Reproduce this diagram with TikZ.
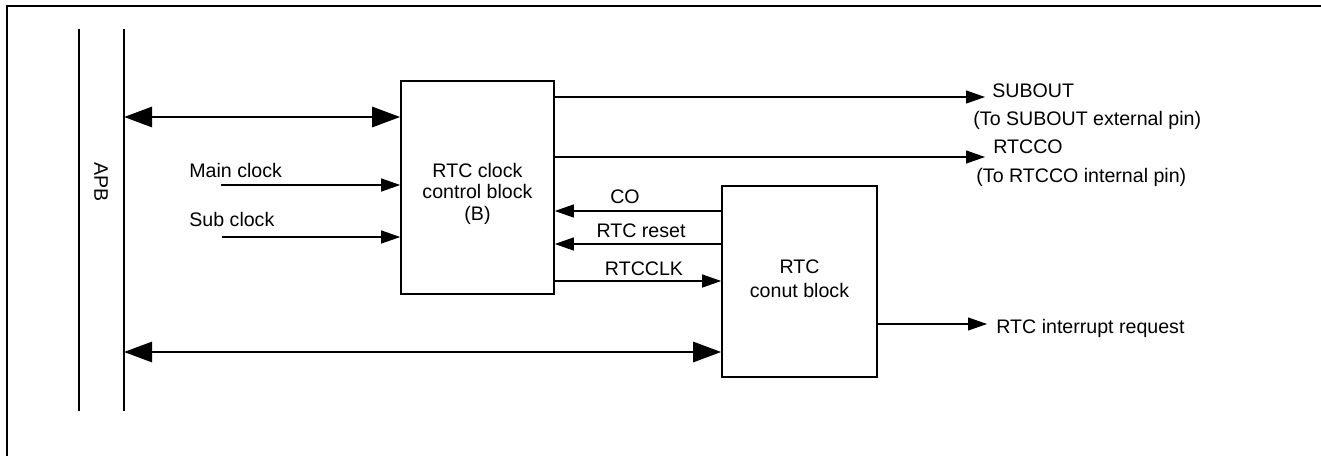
\documentclass[tikz,border=0pt]{standalone}
\usepackage{fontspec}
\setmainfont{Liberation Sans}
\usetikzlibrary{arrows.meta}
\begin{document}
\begin{tikzpicture}[x=0.5pt,y=-0.5pt,
  font=\fontsize{9.8}{11}\selectfont,
  sig/.style={line width=0.55pt,-{Triangle[length=9.5pt,width=6.5pt]}},
  bus/.style={line width=1.4pt,{Triangle[length=14pt,width=10pt]}-{Triangle[length=14pt,width=10pt]}},
  block/.style={draw,line width=0.8pt,inner sep=0pt},
  lbl/.style={inner sep=0pt,anchor=base},
  lblw/.style={inner sep=0pt,anchor=base west},
  rail/.style={line width=1.4pt},
  framel/.style={line width=1.4pt}]
\useasboundingbox (0,0) rectangle (1321,455);
% frame
\coordinate (fb) at (7,460);
\coordinate (fc) at (7,6);
\coordinate (fr) at (1325,6);
\draw[framel] (fb) -- (fc) -- (fr);
% APB bus rails
\coordinate (LT) at (79,29);
\coordinate (LB) at (79,411);
\coordinate (RT) at (124,29);
\coordinate (RB) at (124,411);
\draw[rail] (LT) -- (LB);
\draw[rail] (RT) -- (RB);
\node[rotate=-90,inner sep=0pt] (apb) at (101,182) {APB};
% blocks
\node[block,minimum width=76.5pt,minimum height=106.5pt] (B) at (477.5,187.5) {};
\node[lbl] (B1) at (477.5,177) {RTC clock};
\node[lbl] (B2) at (477.5,198) {control block};
\node[lbl] (B3) at (477.5,220) {(B)};
\node[block,minimum width=77.5pt,minimum height=95.5pt] (C) at (799.5,281.5) {};
\node[lbl] (C1) at (799.5,273) {RTC};
\node[lbl] (C2) at (799.5,297) {conut block};
% buses
\coordinate (b1) at (124,117);
\draw[bus] (b1) -- (B.west |- b1);
\coordinate (b2) at (124,352);
\draw[bus] (b2) -- (C.west |- b2);
% clocks in
\coordinate (mc) at (221,185);
\draw[sig] (mc) -- (B.west |- mc);
\node[lblw] (mcl) at (189,177) {Main clock};
\coordinate (sc) at (222,237);
\draw[sig] (sc) -- (B.west |- sc);
\node[lblw] (scl) at (189,226) {Sub clock};
% outputs
\coordinate (so) at (985,97);
\draw[sig] (B.east |- so) -- (so);
\node[lblw] (sol) at (992,97) {SUBOUT};
\node[lblw] (sol2) at (973,125) {(To SUBOUT external pin)};
\coordinate (ro) at (985,157);
\draw[sig] (B.east |- ro) -- (ro);
\node[lblw] (rol) at (993,153) {RTCCO};
\node[lblw] (rol2) at (976,182) {(To RTCCO internal pin)};
% between blocks
\coordinate (co) at (722,211);
\draw[sig] (C.west |- co) -- (B.east |- co);
\node[lbl] (col) at (625,203) {CO};
\coordinate (rr) at (722,244);
\draw[sig] (C.west |- rr) -- (B.east |- rr);
\node[lbl] (rrl) at (641,237) {RTC reset};
\coordinate (ck) at (554,281);
\draw[sig] (B.east |- ck) -- (C.west |- ck);
\node[lbl] (ckl) at (644,275) {RTCCLK};
% interrupt
\coordinate (irq) at (987,324);
\draw[sig] (C.east |- irq) -- (irq);
\node[lblw] (irql) at (996,333) {RTC interrupt request};
\end{tikzpicture}
\end{document}
